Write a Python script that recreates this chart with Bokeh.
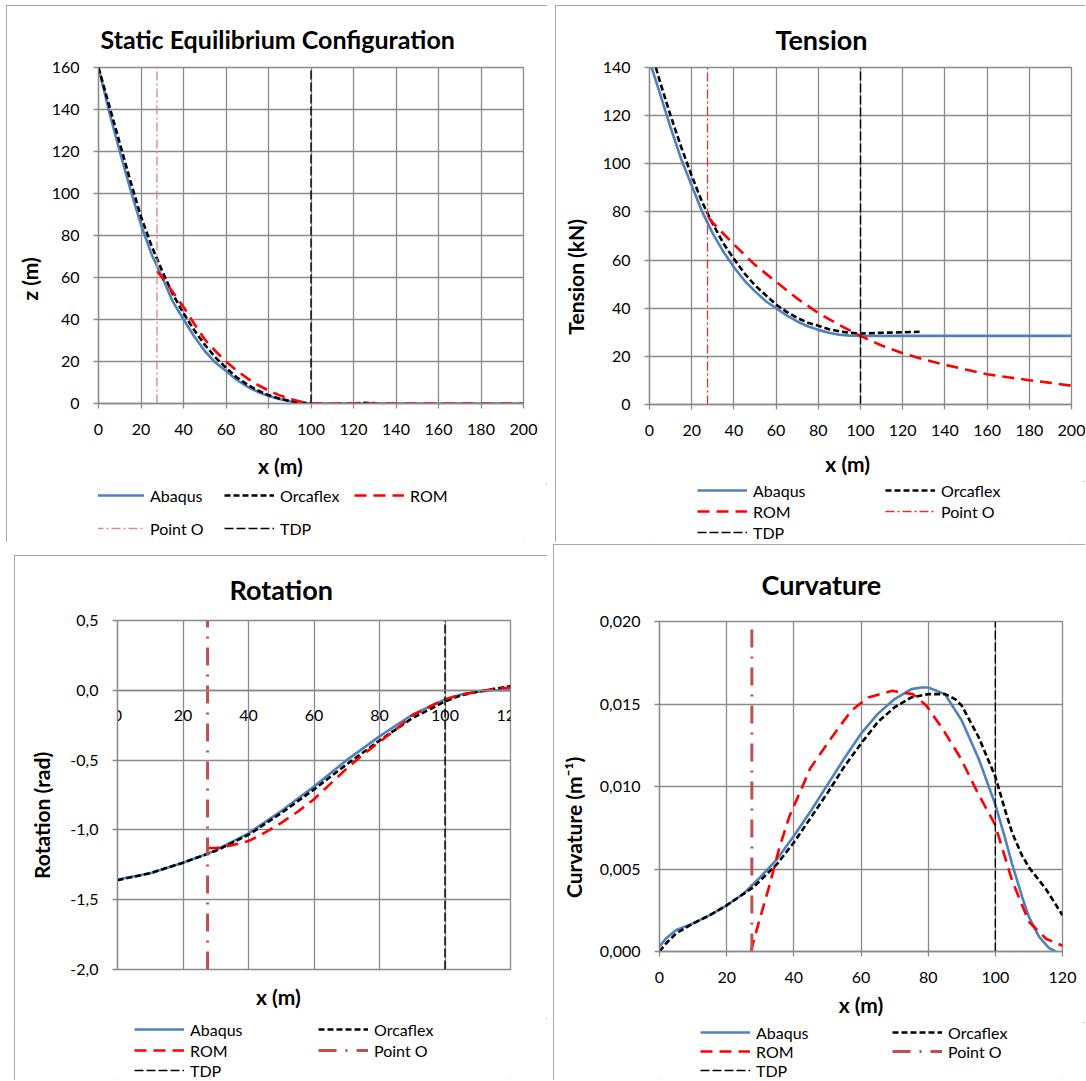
from bokeh.plotting import figure
from bokeh.models import (Range1d, FixedTicker, CustomJSTickFormatter, Legend,
                          LegendItem, LinearAxis, Grid)
from bokeh.layouts import row, column
from bokeh.embed import file_html
from bokeh.resources import INLINE

FONT = "Lato"
BLUE = "#4F81BD"
GRID = "#8a8a8a"
NBSP = "\u00a0"

POINT_O_X = 27.5
TDP_X = 100

# ---------------- Static equilibrium configuration: z (m) vs x (m)
cfg_abaqus_x = [0, 5, 10, 15, 20, 25, 30, 35, 40, 45, 50, 55, 60, 65, 70, 75, 80, 85, 90, 95, 100, 200]
cfg_abaqus_z = [160, 139, 120, 102, 85, 71, 60, 48.5, 40, 32, 25, 19.5, 15.5, 11.3, 8, 5.5, 3.6, 2.2, 1.1, 0.4, 0, 0]
cfg_orca_x = [0, 5, 10, 15, 20, 25, 30, 35, 40, 45, 50, 55, 60, 65, 70, 75, 80, 85, 90, 95, 100, 105, 110, 115, 120, 125, 130]
cfg_orca_z = [160, 142, 124, 106, 89, 75, 63, 52, 43, 35, 28, 22, 17, 12.5, 9, 6.2, 4, 2.4, 1.2, 0.4, 0, -0.3, -0.4, -0.3, 0, 0.3, 0.2]
cfg_rom_x = [27.5, 30, 35, 40, 45, 50, 55, 60, 65, 70, 75, 80, 85, 90, 95, 100, 110, 200]
cfg_rom_z = [63, 60, 53, 46, 38, 30.5, 25, 20, 15.8, 12, 8.8, 6.2, 4, 2.2, 0.9, 0.2, 0, 0]

# ---------------- Tension (kN) vs x (m)
ten_abaqus_x = [1, 5, 10, 15, 20, 25, 30, 35, 40, 45, 50, 55, 60, 65, 70, 75, 80, 85, 90, 95, 100, 200]
ten_abaqus_t = [140, 129, 115, 102, 91, 80, 71, 63.5, 57, 51.5, 47, 43, 40, 37, 34.5, 32.5, 31, 29.8, 29, 28.6, 28.5, 28.5]
ten_orca_x = [3, 5, 10, 15, 20, 25, 30, 35, 40, 45, 50, 55, 60, 65, 70, 75, 80, 85, 90, 95, 100, 110, 120, 128]
ten_orca_t = [140, 134, 120, 107, 95, 84, 75, 67, 60.5, 54.5, 49.5, 45.5, 41.5, 38.5, 36, 34, 32.7, 31.3, 30.4, 29.8, 29.5, 29.8, 30, 30.2]
ten_rom_x = [28, 30, 40, 50, 60, 70, 80, 90, 100, 110, 120, 130, 140, 150, 160, 170, 180, 190, 200]
ten_rom_t = [77.7, 75.5, 66.5, 58, 51, 44, 38, 33, 28.5, 24.5, 21.3, 18.7, 16.5, 14.5, 12.6, 11.3, 10.1, 9, 7.8]

# ---------------- Rotation (rad) vs x (m)
rot_abaqus_x = [0, 10, 20, 27.5, 30, 40, 50, 60, 70, 80, 90, 100, 105, 110, 115, 120]
rot_abaqus_r = [-1.355, -1.31, -1.235, -1.17, -1.145, -1.025, -0.865, -0.69, -0.5, -0.33, -0.175, -0.065, -0.03, -0.01, 0.0, 0.0]
rot_orca_x = [0, 10, 20, 30, 40, 50, 60, 70, 80, 90, 100, 105, 110, 115, 120]
rot_orca_r = [-1.36, -1.31, -1.235, -1.15, -1.035, -0.88, -0.71, -0.53, -0.36, -0.2, -0.08, -0.035, -0.01, 0.01, 0.03]
rot_rom_x = [27.5, 30, 35, 40, 45, 50, 55, 60, 65, 70, 75, 80, 85, 90, 95, 100, 105, 110, 115, 120]
rot_rom_r = [-1.13, -1.13, -1.11, -1.08, -1.02, -0.95, -0.87, -0.78, -0.67, -0.56, -0.46, -0.37, -0.28, -0.18, -0.12, -0.065, -0.03, -0.01, 0.01, 0.02]

# ---------------- Curvature (1/m) vs x (m)
cur_abaqus_x = [0, 2, 5, 10, 15, 20, 25, 28, 30, 35, 40, 45, 50, 55, 60, 65, 70, 75, 78, 80, 85, 90, 95, 100, 103, 105, 108, 110, 113, 116, 118]
cur_abaqus_k = [0.0003, 0.0008, 0.0013, 0.0017, 0.0022, 0.0028, 0.0035, 0.0041, 0.0045, 0.0056, 0.0070, 0.0085, 0.0101, 0.0117, 0.0132, 0.0144, 0.0153, 0.0159, 0.0160, 0.0160, 0.0156, 0.0140, 0.0117, 0.0089, 0.0068, 0.0053, 0.0033, 0.0021, 0.0009, 0.0002, 0.0]
cur_orca_x = [0, 2, 5, 10, 15, 20, 28, 35, 40, 45, 50, 55, 60, 65, 70, 75, 80, 85, 88, 90, 95, 100, 103, 105, 108, 110, 115, 120]
cur_orca_k = [0.0, 0.0005, 0.0011, 0.0017, 0.0022, 0.0028, 0.0039, 0.0053, 0.0066, 0.0081, 0.0096, 0.0112, 0.0126, 0.0139, 0.0148, 0.0154, 0.0156, 0.0156, 0.0153, 0.0149, 0.0130, 0.0106, 0.0085, 0.0072, 0.0058, 0.0051, 0.0038, 0.0022]
cur_rom_x = [27.2, 29.6, 32.6, 35.7, 38.7, 44.9, 51, 57.1, 62.2, 69.3, 75.4, 79.5, 84.6, 89.7, 94.8, 99.9, 105, 110, 115.2, 120]
cur_rom_k = [0.0, 0.0018, 0.0039, 0.0063, 0.0082, 0.0111, 0.0129, 0.0146, 0.0154, 0.0158, 0.0156, 0.0149, 0.0134, 0.0117, 0.0096, 0.0077, 0.0043, 0.0018, 0.00076, 0.00035]

LEGEND_LABELS = ["Abaqus", "Orcaflex", "ROM", "Point O", "TDP"]

STYLE_ABAQUS = dict(line_color=BLUE, line_width=2.6)
STYLE_ORCA = dict(line_color="black", line_width=2.6, line_dash="6 3")
STYLE_ROM = dict(line_color="#FF0000", line_width=2.6, line_dash="12 7")
STYLE_TDP = dict(line_color="black", line_width=1.4, line_dash="9 3")
PO_THIN_1 = dict(line_color="#DA8C8A", line_width=1.4, line_dash="9 3 2 3")
PO_THIN_2 = dict(line_color="#E03030", line_width=1.3, line_dash="9 3 2 3")
PO_THICK = dict(line_color="#C0504D", line_width=3, line_dash="18 9 2 9")


def padded(text, n):
    # trailing no-break spaces shift the visible title off the frame centre,
    # as the spreadsheet chart places its axis titles
    return text + NBSP * n


def style_axis(ax, tick_out=5, standoff=15):
    ax.axis_line_color = GRID
    ax.axis_line_width = 1.3
    ax.major_tick_line_color = GRID
    ax.major_tick_line_width = 1.3
    ax.major_tick_in = 0
    ax.major_tick_out = tick_out
    ax.minor_tick_line_color = None
    ax.major_label_standoff = standoff
    ax.major_label_text_font = FONT
    ax.major_label_text_font_size = "16px"
    ax.major_label_text_color = "black"
    ax.axis_label_text_font = FONT
    ax.axis_label_text_font_style = "bold"
    ax.axis_label_text_font_size = "21px"
    ax.axis_label_text_color = "black"


def make_main(w, h, L, R, T, B, xr, yr, xticks, yticks, title, t_size, t_off, t_stand,
              ylabel, y_stand, xlabel, x_stand, fixed=False):
    p = figure(width=w, height=h, output_backend="svg", toolbar_location=None,
               x_range=Range1d(*xr), y_range=Range1d(*yr), x_axis_location=None,
               min_border_left=L, min_border_right=R, min_border_top=T, min_border_bottom=B)
    p.background_fill_color = "white"
    p.border_fill_color = "white"
    p.outline_line_color = GRID
    p.outline_line_width = 1.3

    p.title.text = title
    p.title.align = "left"
    p.title.offset = t_off
    p.title.standoff = t_stand
    p.title.text_font = FONT
    p.title.text_font_style = "bold"
    p.title.text_font_size = t_size
    p.title.text_color = "black"

    p.yaxis.ticker = FixedTicker(ticks=yticks)
    style_axis(p.yaxis[0], 5, 14)
    p.yaxis.axis_label = ylabel
    p.yaxis.axis_label_standoff = y_stand
    p.ygrid.grid_line_color = GRID
    p.ygrid.grid_line_width = 1.3

    # drop the default vertical grid, use one on the chart's own x ticks
    p.center = [r for r in p.center if not (isinstance(r, Grid) and r.dimension == 0)]
    xt = FixedTicker(ticks=xticks)
    p.add_layout(Grid(dimension=0, ticker=xt, grid_line_color=GRID, grid_line_width=1.3))
    if fixed:
        lab_ax = LinearAxis(ticker=FixedTicker(ticks=[]), axis_label=xlabel)
        style_axis(lab_ax, 0, 0)
        lab_ax.axis_line_color = None
        lab_ax.axis_label_standoff = x_stand
        p.add_layout(lab_ax, "below")
        tick_ax = LinearAxis(ticker=xt, fixed_location=0)
        style_axis(tick_ax, 0, 20)
        p.add_layout(tick_ax, "below")
    else:
        ax = LinearAxis(ticker=xt, axis_label=xlabel)
        style_axis(ax, 5, 15)
        ax.axis_label_standoff = x_stand
        p.add_layout(ax, "below")
    return p


def draw_series(p, ax, ay, ox, oy, rx, ry, yr, po_style):
    p.line(ax, ay, **STYLE_ABAQUS)
    p.line(ox, oy, **STYLE_ORCA)
    p.line(rx, ry, **STYLE_ROM)
    p.line([POINT_O_X, POINT_O_X], [yr[0], yr[1]], **po_style)
    p.line([TDP_X, TDP_X], [yr[0], yr[1]], **STYLE_TDP)


def make_legend_fig(w, h, po_style, rows, x0, spacing, label_width):
    """Key strip under a chart: rows = list of (item indices, bottom of the row in px)."""
    lf = figure(width=w, height=h, output_backend="svg", toolbar_location=None,
                x_range=Range1d(0, 1), y_range=Range1d(0, 1),
                x_axis_location=None, y_axis_location=None,
                min_border_left=0, min_border_right=0, min_border_top=0, min_border_bottom=0)
    lf.outline_line_color = None
    lf.background_fill_color = "white"
    lf.border_fill_color = "white"
    lf.grid.visible = False
    styles = [STYLE_ABAQUS, STYLE_ORCA, STYLE_ROM, po_style, STYLE_TDP]
    # swatch-only renderers, kept outside the visible range
    rends = [lf.line(x=[-5, -4], y=[-5, -4], **s) for s in styles]
    for idx, ybot in rows:
        items = [LegendItem(label=LEGEND_LABELS[i], renderers=[rends[i]]) for i in idx]
        leg = Legend(items=items, location=(x0, ybot), orientation="horizontal",
                     padding=0, margin=0, spacing=spacing, border_line_color=None,
                     background_fill_alpha=0, glyph_width=50, glyph_height=20,
                     label_height=20, label_width=label_width, label_standoff=6,
                     label_text_font=FONT, label_text_font_size="16px",
                     label_text_color="black")
        lf.add_layout(leg)
    return lf


BOX = {"outline": "1px solid #8e8e8e", "outline-offset": "-1px"}

# ---------------- Panel 1  (page box 6..547 x 5..542, frame 98..523 x 67..403)
p1 = make_main(541, 478, 92, 24, 62, 80, (0, 200), (0, 160),
               list(range(0, 201, 20)), list(range(0, 161, 20)),
               "Static Equilibrium Configuration", "25px", 2, 28,
               padded("z (m)", 17), 7, padded("x (m)", 12), 15)
draw_series(p1, cfg_abaqus_x, cfg_abaqus_z, cfg_orca_x, cfg_orca_z, cfg_rom_x, cfg_rom_z,
            (0, 160), PO_THIN_1)
l1 = make_legend_fig(541, 59, PO_THIN_1, [([0, 1, 2], 37), ([3, 4], 4)], -4, 10, 64)
c1 = column(p1, l1, styles=BOX, margin=(5, 0, 0, 6))

# ---------------- Panel 2  (page box 555..1085 x 5..542, frame 649..1071 x 67..404)
p2 = make_main(530, 476, 94, 14, 62, 77, (0, 200), (0, 140),
               list(range(0, 201, 20)), list(range(0, 141, 20)),
               "Tension", "27px", 126, 24,
               padded("Tension (kN)", 16), 12, padded("x (m)", 5), 12)
draw_series(p2, ten_abaqus_x, ten_abaqus_t, ten_orca_x, ten_orca_t, ten_rom_x, ten_rom_t,
            (0, 140), PO_THIN_2)
l2 = make_legend_fig(530, 61, PO_THIN_2, [([0, 1], 42), ([2, 3], 21), ([4], 0)], 48, 10, 122)
c2 = column(p2, l2, styles=BOX, margin=(5, 0, 0, 8))

# ---------------- Panel 3  (page box 14..547 x 555..1080, frame 117..510 x 620..969)
p3 = make_main(533, 463, 103, 37, 65, 49, (0, 120), (-2.0, 0.5),
               list(range(0, 121, 20)), [-2.0, -1.5, -1.0, -0.5, 0.0, 0.5],
               "Rotation", "27px", 112, 30,
               padded("Rotation  (rad)", 7), 13, padded("x (m)", 14), 14, fixed=True)
p3.yaxis.formatter = CustomJSTickFormatter(code="return tick.toFixed(1).replace('.', ',');")
draw_series(p3, rot_abaqus_x, rot_abaqus_r, rot_orca_x, rot_orca_r, rot_rom_x, rot_rom_r,
            (-2.0, 0.5), PO_THICK)
l3 = make_legend_fig(533, 62, PO_THICK, [([0, 1], 41), ([2, 3], 20), ([4], 0)], 17, 10, 118)
c3 = column(p3, l3, styles=BOX, margin=(13, 0, 0, 14))

# ---------------- Panel 4  (page box 553..1085 x 544..1080, frame 659..1062 x 620..951)
p4 = make_main(532, 478, 106, 23, 76, 71, (0, 120), (0, 0.02),
               list(range(0, 121, 20)), [0.0, 0.005, 0.010, 0.015, 0.020],
               "Curvature", "27px", 102, 42,
               padded("Curvature  (m\u207b\u00b9)", 15), 11, "x (m)", 6)
p4.yaxis.formatter = CustomJSTickFormatter(code="return tick.toFixed(3).replace('.', ',');")
draw_series(p4, cur_abaqus_x, cur_abaqus_k, cur_orca_x, cur_orca_k, cur_rom_x, cur_rom_k,
            (0, 0.02), PO_THICK)
l4 = make_legend_fig(532, 58, PO_THICK, [([0, 1], 38), ([2, 3], 19), ([4], 0)], 41, 10, 126)
c4 = column(p4, l4, styles=BOX, margin=(2, 0, 0, 6))

layout = column(row(c1, c2), row(c3, c4))
open("out.html", "w").write(file_html(layout, INLINE))
